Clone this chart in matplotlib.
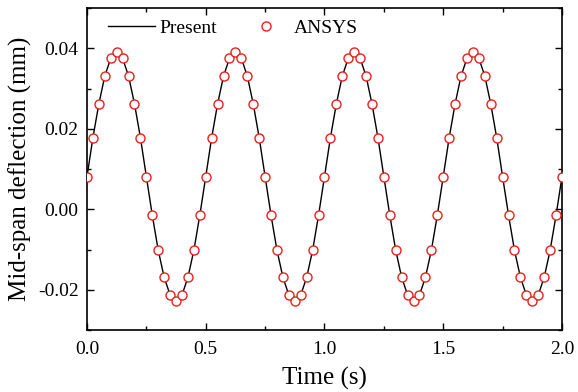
import numpy as np
import matplotlib
matplotlib.use("Agg")
import matplotlib.pyplot as plt
from matplotlib.ticker import MultipleLocator, FormatStrFormatter

plt.rcParams['font.family'] = ['Liberation Serif', 'DejaVu Serif']
plt.rcParams['mathtext.fontset'] = 'stix'

time_s = np.arange(81) * 0.025

present = [
    0.0081, 0.0178, 0.0262, 0.0331, 0.0375, 0.0390, 0.0375, 0.0331, 0.0262, 0.0178,
    0.0081, -0.0015, -0.0102, -0.0169, -0.0213, -0.0229, -0.0213, -0.0169, -0.0102, -0.0015,
    0.0081, 0.0178, 0.0262, 0.0331, 0.0375, 0.0390, 0.0375, 0.0331, 0.0262, 0.0178,
    0.0081, -0.0015, -0.0102, -0.0169, -0.0213, -0.0229, -0.0213, -0.0169, -0.0102, -0.0015,
    0.0081, 0.0178, 0.0262, 0.0331, 0.0375, 0.0390, 0.0375, 0.0331, 0.0262, 0.0178,
    0.0081, -0.0015, -0.0102, -0.0169, -0.0213, -0.0229, -0.0213, -0.0169, -0.0102, -0.0015,
    0.0081, 0.0178, 0.0262, 0.0331, 0.0375, 0.0390, 0.0375, 0.0331, 0.0262, 0.0178,
    0.0081, -0.0015, -0.0102, -0.0169, -0.0213, -0.0229, -0.0213, -0.0169, -0.0102, -0.0015,
    0.0081,
]
ansys = list(present)

fig = plt.figure(figsize=(5.78, 3.92), dpi=100)
ax = fig.add_axes([0.1505, 0.158, 0.8218, 0.8216])

ax.plot(time_s, present, color='black', lw=1.0, label='Present', zorder=2)
ax.plot(time_s, ansys, linestyle='none', marker='o', markersize=6.5,
        markerfacecolor='white', markeredgecolor='#e8211c', markeredgewidth=1.0,
        label='ANSYS', zorder=3)

ax.set_xlim(0, 2.0)
ax.set_ylim(-0.03, 0.05)
ax.xaxis.set_major_locator(MultipleLocator(0.5))
ax.xaxis.set_minor_locator(MultipleLocator(0.25))
ax.yaxis.set_major_locator(MultipleLocator(0.02))
ax.yaxis.set_minor_locator(MultipleLocator(0.01))
ax.xaxis.set_major_formatter(FormatStrFormatter('%.1f'))
ax.yaxis.set_major_formatter(FormatStrFormatter('%.2f'))

ax.tick_params(which='both', direction='in', top=True, right=True, width=1.0)
ax.tick_params(which='major', length=5, labelsize=14)
ax.tick_params(axis='x', which='major', pad=8)
ax.tick_params(axis='y', which='major', pad=6)
ax.tick_params(which='minor', length=3)
for s in ax.spines.values():
    s.set_linewidth(1.2)

ax.set_xlabel('Time (s)', fontsize=18, labelpad=6)
ax.set_ylabel('Mid-span deflection (mm)', fontsize=18, labelpad=4)

ax.legend(loc='upper left', bbox_to_anchor=(0.02, 1.0), ncol=2, frameon=False,
          fontsize=14, handlelength=2.4, handletextpad=0.25, columnspacing=1.3,
          numpoints=1, borderaxespad=0.2)

fig.savefig('out.png', dpi=100)
